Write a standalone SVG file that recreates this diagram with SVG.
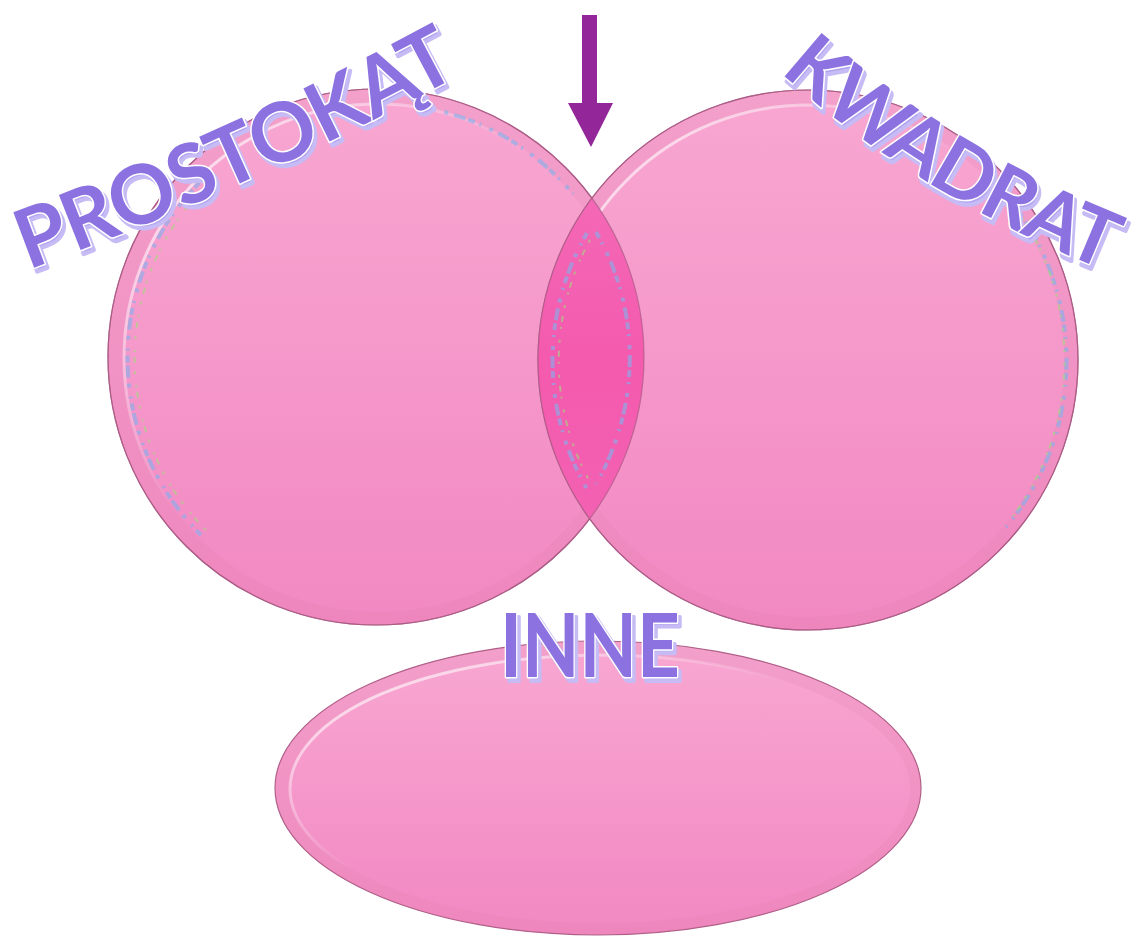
<svg xmlns="http://www.w3.org/2000/svg" xmlns:xlink="http://www.w3.org/1999/xlink" width="1134" height="938" viewBox="0 0 1134 938">
<style>
.lbl{font-family:Lato,"Open Sans","Liberation Sans",sans-serif;font-weight:bold;}
.main{fill:#8b72e0;stroke:#ffffff;stroke-width:3;paint-order:stroke;stroke-linejoin:round;}
.shadow{fill:#b3a4f1;stroke:#c6bbf5;stroke-width:4;stroke-linejoin:round;}
.rimline{fill:none;stroke:#a85a84;stroke-width:1.2;opacity:0.7;}
.speck{fill:none;stroke:#7fb2ee;stroke-width:4;stroke-dasharray:7 5 2 9 4 6 12 3;opacity:0.6;}
.speck2{fill:none;stroke:#9ee07a;stroke-width:2;stroke-dasharray:3 8 6 5 2 11;opacity:0.6;}
</style>
<defs>
<linearGradient id="gOut" x1="0" y1="0" x2="0" y2="1">
<stop offset="0" stop-color="#f3a0cb"/><stop offset="1" stop-color="#ee86bd"/>
</linearGradient>
<linearGradient id="gIn" x1="0" y1="0" x2="0" y2="1">
<stop offset="0" stop-color="#f8a6d1"/><stop offset="1" stop-color="#f289c3"/>
</linearGradient>
<linearGradient id="gLens" x1="0" y1="0" x2="0" y2="1">
<stop offset="0" stop-color="#f472bb"/><stop offset="0.5" stop-color="#f45aae"/><stop offset="1" stop-color="#f266b5"/>
</linearGradient>
<linearGradient id="gHL" x1="0" y1="0" x2="1" y2="1">
<stop offset="0" stop-color="#ffffff" stop-opacity="0.9"/><stop offset="0.45" stop-color="#ffffff" stop-opacity="0"/>
</linearGradient>
<clipPath id="clipL"><circle cx="376" cy="357" r="268"/></clipPath>
<path id="pathP" d="M 28 270 Q 246 190 458 76"/>
<path id="pathK" d="M 780 72 Q 918 196 1104 270"/>
</defs>

<g id="node-prostokat">
<circle cx="376" cy="357" r="268" fill="url(#gOut)" stroke="#b06088" stroke-width="1.2"/>
<circle cx="378" cy="358" r="254" fill="url(#gIn)"/>
<circle cx="378" cy="358" r="254" fill="none" stroke="url(#gHL)" stroke-width="3"/>
<path class="speck" d="M 201 535 A 250 250 0 0 1 201 181"/>
<path class="speck2" d="M 206 530 A 243 243 0 0 1 206 186"/>
<path class="speck" d="M 422 107 A 255 255 0 0 1 573 194" opacity="0.45"/>
</g>

<g id="node-kwadrat">
<circle cx="808" cy="360" r="270" fill="url(#gOut)" stroke="#b06088" stroke-width="1.2"/>
<circle cx="808" cy="361" r="256" fill="url(#gIn)"/>
<circle cx="808" cy="361" r="256" fill="none" stroke="url(#gHL)" stroke-width="3"/>
<path class="speck" d="M 1006 195 A 258 258 0 0 1 1006 527" opacity="0.5"/>
<path class="speck2" d="M 1010 200 A 262 262 0 0 1 1010 520"/>
</g>

<g id="node-lens">
<circle cx="808" cy="360" r="270" fill="url(#gLens)" clip-path="url(#clipL)"/>
<path class="speck" d="M 587 233 A 255 255 0 0 0 587 489"/>
<path class="speck2" d="M 590 240 A 250 250 0 0 0 590 482"/>
<path class="speck" d="M 596 232 A 252 252 0 0 1 596 484"/>
<circle class="rimline" cx="376" cy="357" r="268"/>
<circle class="rimline" cx="808" cy="360" r="270"/>
</g>

<g id="node-inne">
<ellipse cx="598" cy="788" rx="323" ry="147" fill="url(#gOut)" stroke="#b06088" stroke-width="1.2"/>
<ellipse cx="600" cy="789" rx="310" ry="134" fill="url(#gIn)"/>
<ellipse cx="600" cy="789" rx="310" ry="134" fill="none" stroke="url(#gHL)" stroke-width="3"/>
</g>

<g id="connectors">
<polygon points="582,15 597,15 597,103 613,103 591,147 568,103 582,103" fill="#93279a"/>
</g>

<g id="label-prostokat" class="lbl" font-size="82" letter-spacing="-1">
<text class="shadow" transform="translate(3,4)"><textPath xlink:href="#pathP" href="#pathP">PROSTOKĄT</textPath></text>
<text class="main"><textPath xlink:href="#pathP" href="#pathP">PROSTOKĄT</textPath></text>
</g>
<g id="label-kwadrat" class="lbl" font-size="79" letter-spacing="-2">
<text class="shadow" transform="translate(2,5)"><textPath xlink:href="#pathK" href="#pathK">KWADRAT</textPath></text>
<text class="main"><textPath xlink:href="#pathK" href="#pathK">KWADRAT</textPath></text>
</g>
<g id="label-inne" class="lbl" font-size="88">
<text class="shadow" x="593" y="681" text-anchor="middle" textLength="180" lengthAdjust="spacingAndGlyphs">INNE</text>
<text class="main" x="590" y="677" text-anchor="middle" textLength="180" lengthAdjust="spacingAndGlyphs">INNE</text>
</g>
</svg>
